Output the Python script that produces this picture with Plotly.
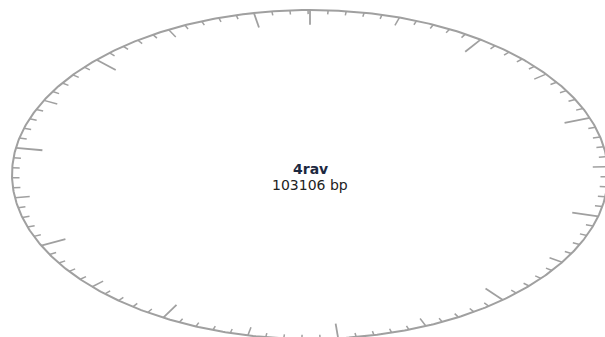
import numpy as np
import plotly.graph_objects as go

# Sequence map: one circular record with its length in base pairs
seq_name = "4rav"
seq_length = 103106

# Tick spacing along the backbone (bp) and relative tick lengths
major_step = 10000
medium_step = 5000
minor_step = 1000
major_len = 0.09
medium_len = 0.05
minor_len = 0.025

# Layout of the ring in plot coordinates (pixels of the canvas)
W, H = 605, 337
cx, cy = 310, 174.5
rx, ry = 298, 164.5


def ring_xy(bp, r=1.0):
    theta = 2 * np.pi * np.asarray(bp, dtype=float) / seq_length
    return cx + rx * r * np.sin(theta), cy - ry * r * np.cos(theta)


def tick_segments(positions, length):
    xs, ys = [], []
    for p in positions:
        x0, y0 = ring_xy(p, 1.0)
        x1, y1 = ring_xy(p, 1.0 - length)
        xs += [float(x0), float(x1), None]
        ys += [float(y0), float(y1), None]
    return xs, ys


all_pos = np.arange(0, seq_length, minor_step)
major_pos = [p for p in all_pos if p % major_step == 0]
medium_pos = [p for p in all_pos if p % medium_step == 0 and p % major_step != 0]
minor_pos = [p for p in all_pos if p % medium_step != 0]

line_color = "#a0a0a0"

fig = go.Figure()

# backbone ring
bp_line = np.linspace(0, seq_length, 721)
rxs, rys = ring_xy(bp_line)
fig.add_trace(go.Scatter(x=rxs, y=rys, mode="lines",
                         line=dict(color=line_color, width=2),
                         hoverinfo="skip", showlegend=False))

for pos, ln, wd in [(minor_pos, minor_len, 1.5),
                    (medium_pos, medium_len, 1.5),
                    (major_pos, major_len, 1.8)]:
    tx, ty = tick_segments(pos, ln)
    fig.add_trace(go.Scatter(x=tx, y=ty, mode="lines",
                             line=dict(color=line_color, width=wd),
                             hoverinfo="skip", showlegend=False))

label_font = "DejaVu Sans, Verdana, sans-serif"
fig.add_annotation(x=cx, y=168.5, text=f"<b>{seq_name}</b>", showarrow=False,
                   font=dict(family=label_font, size=14, color="#1c2840"),
                   xanchor="center", yanchor="middle", borderpad=0)
fig.add_annotation(x=cx, y=185, text=f"{seq_length} bp", showarrow=False,
                   font=dict(family=label_font, size=14, color="#222222"),
                   xanchor="center", yanchor="middle", borderpad=0)

fig.update_xaxes(range=[0, W], visible=False, fixedrange=True)
fig.update_yaxes(range=[H, 0], visible=False, fixedrange=True)
fig.update_layout(width=W, height=H, margin=dict(l=0, r=0, t=0, b=0),
                  plot_bgcolor="white", paper_bgcolor="white")

fig.write_html("out.html")
